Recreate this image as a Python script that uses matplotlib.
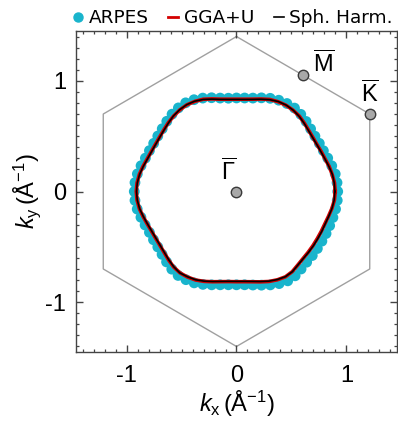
import numpy as np
import matplotlib
matplotlib.use("Agg")
import matplotlib.pyplot as plt
from matplotlib.lines import Line2D
from matplotlib.ticker import MultipleLocator

plt.rcParams['axes.unicode_minus'] = False
plt.rcParams['mathtext.fontset'] = 'custom'
plt.rcParams['mathtext.rm'] = 'Liberation Sans'
plt.rcParams['mathtext.it'] = 'Liberation Sans:italic'
plt.rcParams['mathtext.bf'] = 'Liberation Sans:bold'

# polar sampling angles (degrees) of the contours
angles_deg = list(range(0, 360, 5))

# Spherical-harmonic fit radius (1/Å) at each angle
r_sph = [0.895, 0.893, 0.886, 0.871, 0.857, 0.848, 0.845, 0.847, 0.856, 0.871, 0.887, 0.898,
         0.902, 0.897, 0.883, 0.863, 0.845, 0.835, 0.832, 0.835, 0.845, 0.864, 0.885, 0.900,
         0.906, 0.902, 0.892, 0.876, 0.862, 0.853, 0.850, 0.853, 0.862, 0.878, 0.895, 0.906,
         0.910, 0.906, 0.895, 0.877, 0.861, 0.850, 0.846, 0.848, 0.857, 0.872, 0.888, 0.898,
         0.890, 0.880, 0.862, 0.842, 0.825, 0.815, 0.812, 0.815, 0.825, 0.842, 0.862, 0.878,
         0.889, 0.885, 0.868, 0.858, 0.855, 0.854, 0.853, 0.855, 0.858, 0.868, 0.882, 0.892]

# GGA+U contour radius
r_gga = [0.898, 0.895, 0.884, 0.873, 0.858, 0.851, 0.846, 0.849, 0.858, 0.873, 0.889, 0.897,
         0.900, 0.895, 0.885, 0.865, 0.847, 0.837, 0.834, 0.837, 0.847, 0.866, 0.887, 0.898,
         0.904, 0.900, 0.890, 0.878, 0.864, 0.855, 0.852, 0.855, 0.864, 0.880, 0.897, 0.908,
         0.912, 0.908, 0.897, 0.879, 0.863, 0.852, 0.848, 0.850, 0.859, 0.874, 0.890, 0.897,
         0.892, 0.882, 0.864, 0.844, 0.827, 0.817, 0.815, 0.818, 0.828, 0.845, 0.865, 0.880,
         0.890, 0.884, 0.867, 0.856, 0.852, 0.850, 0.849, 0.851, 0.855, 0.866, 0.881, 0.894]

# ARPES Fermi-surface points radius
r_arpes = [0.921, 0.918, 0.912, 0.897, 0.883, 0.872, 0.870, 0.871, 0.880, 0.895, 0.910, 0.920,
           0.918, 0.910, 0.896, 0.876, 0.857, 0.848, 0.845, 0.846, 0.857, 0.877, 0.898, 0.915,
           0.925, 0.922, 0.912, 0.897, 0.882, 0.874, 0.870, 0.874, 0.882, 0.899, 0.916, 0.927,
           0.930, 0.927, 0.917, 0.900, 0.885, 0.874, 0.872, 0.874, 0.884, 0.900, 0.916, 0.926,
           0.920, 0.911, 0.893, 0.873, 0.856, 0.846, 0.843, 0.846, 0.858, 0.876, 0.898, 0.918,
           0.932, 0.930, 0.914, 0.903, 0.900, 0.898, 0.897, 0.899, 0.902, 0.908, 0.915, 0.920]

# Brillouin zone corners (1/Å)
bz_kx = [0.0, 1.212, 1.212, 0.0, -1.212, -1.212, 0.0]
bz_ky = [1.40, 0.70, -0.70, -1.40, -0.70, 0.70, 1.40]

# high-symmetry points
hs_labels = [r'$\overline{\mathrm{\Gamma}}$', r'$\overline{\mathrm{M}}$', r'$\overline{\mathrm{K}}$']
hs_kx = [0.0, 0.606, 1.212]
hs_ky = [0.0, 1.05, 0.70]
hs_label_x = [-0.075, 0.79, 1.215]
hs_label_y = [0.17, 1.15, 0.88]

xticks = [-1, 0, 1]
yticks = [-1, 0, 1]

th = np.deg2rad(angles_deg)
def xy(r, closed=True):
    r = np.asarray(r)
    x = r * np.cos(th)
    y = r * np.sin(th)
    if closed:
        x = np.append(x, x[0]); y = np.append(y, y[0])
    return x, y

fig = plt.figure(figsize=(3.98, 4.30), dpi=100)
ax = fig.add_axes([76/398, 78/430, 321/398, 321/430])

ax.plot(bz_kx, bz_ky, color='#a0a0a0', lw=1.0, zorder=1)

xa, ya = xy(r_arpes, closed=False)
ax.scatter(xa, ya, s=60, color='#19b4cc', edgecolors='none', zorder=2)
xg, yg = xy(r_gga)
ax.plot(xg, yg, color='#d40000', lw=2.6, zorder=3)
xs, ys = xy(r_sph)
ax.plot(xs, ys, color='black', lw=1.2, zorder=4)

ax.plot(hs_kx, hs_ky, ls='none', marker='o', ms=7.5, mfc='#a8a8a8', mec='#3a3a3a', mew=1.0, zorder=5)
for lab, lx, ly in zip(hs_labels, hs_label_x, hs_label_y):
    ax.text(lx, ly, lab, fontsize=17, ha='center', va='center', zorder=6)

ax.set_xlim(-1.46, 1.46)
ax.set_ylim(-1.45, 1.45)
ax.set_xticks(xticks)
ax.set_yticks(yticks)
ax.set_xticklabels([str(t) for t in xticks], family='Liberation Sans', fontsize=17)
ax.set_yticklabels([str(t) for t in yticks], family='Liberation Sans', fontsize=17)
ax.xaxis.set_minor_locator(MultipleLocator(0.1))
ax.yaxis.set_minor_locator(MultipleLocator(0.1))
ax.tick_params(which='both', direction='in', top=True, right=True, color='#444444')
ax.tick_params(which='major', length=5, width=1.0)
ax.tick_params(which='minor', length=2.5, width=0.9)
ax.tick_params(axis='x', which='major', pad=9)
ax.tick_params(axis='y', which='major', pad=7)
for sp in ax.spines.values():
    sp.set_color('#444444')
    sp.set_linewidth(1.0)

ax.set_xlabel(r'$k_{\mathrm{x}}\,(\mathrm{\AA^{-1}})$', fontsize=17, labelpad=2)
ax.set_ylabel(r'$k_{\mathrm{y}}\,(\mathrm{\AA^{-1}})$', fontsize=17, labelpad=2)

handles = [Line2D([], [], ls='none', marker='o', ms=6.5, color='#19b4cc'),
           Line2D([], [], color='#d40000', lw=2),
           Line2D([], [], color='black', lw=1.2)]
fig.legend(handles, ['ARPES', 'GGA+U', 'Sph. Harm.'], loc='center left', bbox_to_anchor=(73/398, 0.958),
           ncol=3, frameon=False, handlelength=0.55, handletextpad=0.3,
           columnspacing=1.05, borderaxespad=0, borderpad=0, prop={'family': 'DejaVu Sans', 'size': 13.3})

fig.savefig('out.png', dpi=100)
